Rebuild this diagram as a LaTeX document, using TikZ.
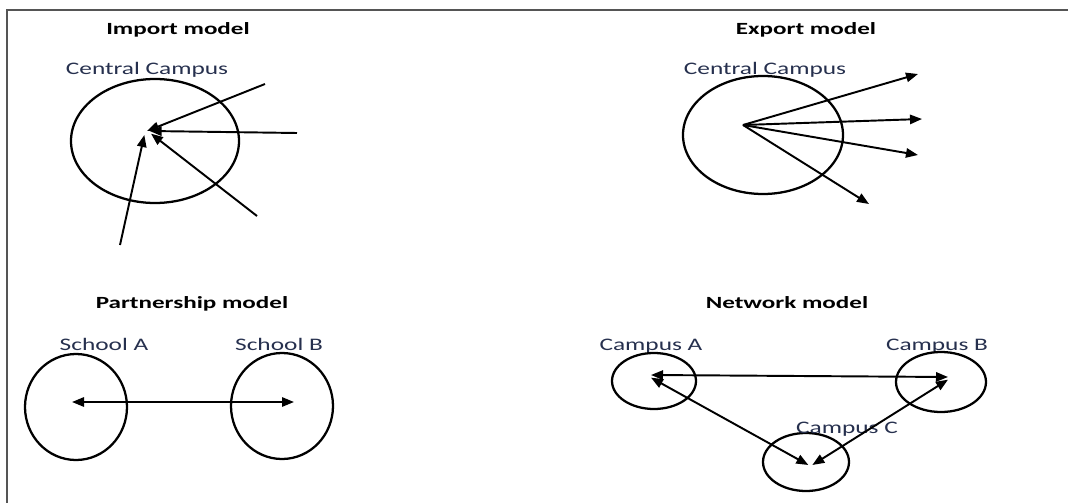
\documentclass[tikz,border=0pt]{standalone}
\usepackage{fontspec}
\setmainfont{Carlito}
\usetikzlibrary{shapes.geometric,arrows.meta}
\definecolor{labelink}{RGB}{38,48,78}
\definecolor{frameink}{RGB}{85,85,85}
\begin{document}
\begin{tikzpicture}[x=0.75pt,y=-0.75pt,
  title/.style={font=\bfseries\fontsize{12.8}{14}\selectfont, xscale=1.47, anchor=base, inner sep=0},
  label/.style={font=\fontsize{13.2}{15}\selectfont, text=labelink, xscale=1.44, anchor=base, inner sep=0},
  campus/.style={draw, ellipse, line width=1.7pt, inner sep=0},
  arr/.style={line width=1.45pt, -{Triangle[length=9pt,width=7pt]}},
  biarr/.style={line width=1.45pt, {Triangle[length=9pt,width=7pt]}-{Triangle[length=9pt,width=7pt]}}]
\useasboundingbox (0,0) rectangle (1068,503);
% frame (top and left edges)
\draw[frameink, line width=1.5pt] (7,503) -- (7,10) -- (1068,10);

% --- Import model ---
\node[title] (impT) at (178,35) {Import model};
\node[label] (impL) at (147,75) {Central Campus};
\node[campus, minimum width=126pt, minimum height=93pt] (impC) at (155,141) {};
\coordinate (impHub) at (147,131);
\coordinate (impA) at (265,84);
\coordinate (impB) at (297,133);
\coordinate (impD) at (257,216);
\coordinate (impE) at (120,245);
\draw[arr] (impA) -- (impHub);
\draw[arr] (impB) -- ([xshift=2pt]impHub);
\draw[arr] (impD) -- ([xshift=3pt,yshift=-2pt]impHub);
\draw[arr] (impE) -- ([xshift=-2pt,yshift=-3pt]impHub);

% --- Export model ---
\node[title] (expT) at (806,35) {Export model};
\node[label] (expL) at (765,75) {Central Campus};
\node[campus, minimum width=120pt, minimum height=88.5pt] (expC) at (763,135) {};
\coordinate (expHub) at (743,125);
\coordinate (expA) at (918,74);
\coordinate (expB) at (922,119);
\coordinate (expD) at (918,155);
\coordinate (expE) at (869,204);
\draw[arr] (expHub) -- (expA);
\draw[arr] (expHub) -- (expB);
\draw[arr] (expHub) -- (expD);
\draw[arr] (expHub) -- (expE);

% --- Partnership model ---
\node[title] (parT) at (192,308) {Partnership model};
\node[label] (schAL) at (104,350) {School A};
\node[label] (schBL) at (279,350) {School B};
\node[campus, minimum width=76.5pt, minimum height=79.5pt] (schA) at (76,407) {};
\node[campus, minimum width=76.5pt, minimum height=79.5pt] (schB) at (282,406) {};
\coordinate (schAin) at (72,402);
\coordinate (schBin) at (294,402);
\draw[biarr] (schAin) -- (schBin);

% --- Network model ---
\node[title] (netT) at (787,308) {Network model};
\node[label] (camAL) at (651,350) {Campus A};
\node[label] (camBL) at (937,350) {Campus B};
\node[campus, minimum width=63pt, minimum height=42pt] (camA) at (654,381) {};
\node[campus, minimum width=67.5pt, minimum height=45pt] (camB) at (941,382) {};
\node[campus, minimum width=64.5pt, minimum height=43.5pt] (camC) at (806,462) {};
\node[label] (camCL) at (847,433) {Campus C};
\coordinate (camAin) at (651,375);
\coordinate (camBin) at (948,377);
\coordinate (camCin) at (811,465);
\draw[biarr] (camAin) -- (camBin);
\draw[biarr] ([yshift=-2pt]camAin) -- ([xshift=-2pt]camCin);
\draw[biarr] ([yshift=-2pt]camBin) -- ([xshift=1pt]camCin);
\end{tikzpicture}
\end{document}
